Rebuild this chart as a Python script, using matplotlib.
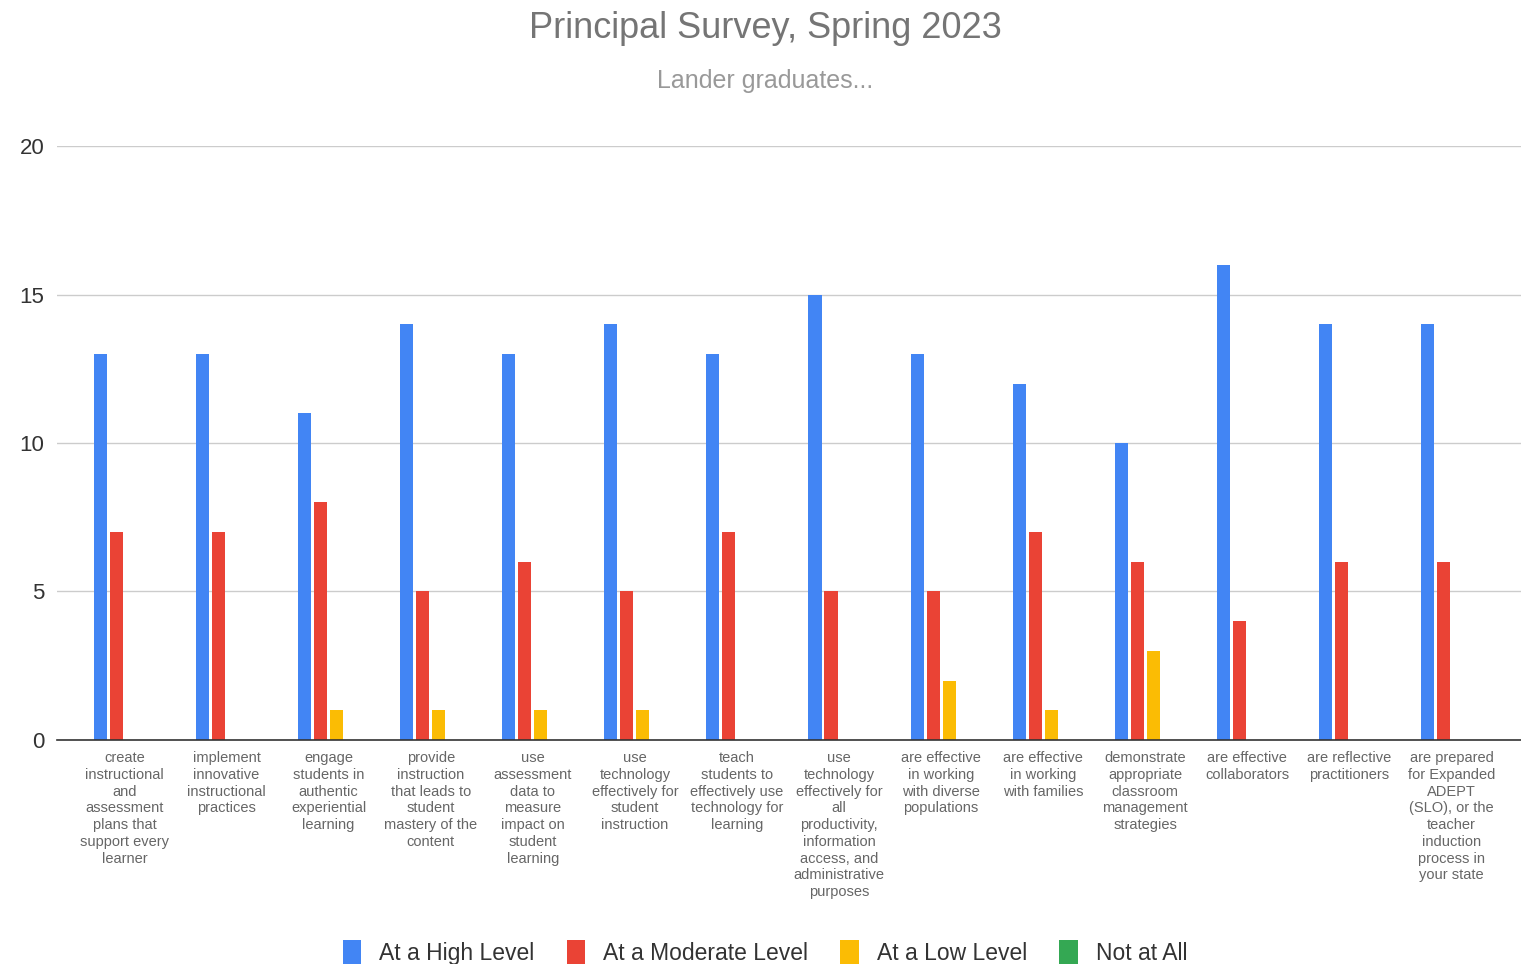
import numpy as np
import matplotlib.pyplot as plt
from matplotlib.patches import Patch

categories = [
    "create\ninstructional\nand\nassessment\nplans that\nsupport every\nlearner",
    "implement\ninnovative\ninstructional\npractices",
    "engage\nstudents in\nauthentic\nexperiential\nlearning",
    "provide\ninstruction\nthat leads to\nstudent\nmastery of the\ncontent",
    "use\nassessment\ndata to\nmeasure\nimpact on\nstudent\nlearning",
    "use\ntechnology\neffectively for\nstudent\ninstruction",
    "teach\nstudents to\neffectively use\ntechnology for\nlearning",
    "use\ntechnology\neffectively for\nall\nproductivity,\ninformation\naccess, and\nadministrative\npurposes",
    "are effective\nin working\nwith diverse\npopulations",
    "are effective\nin working\nwith families",
    "demonstrate\nappropriate\nclassroom\nmanagement\nstrategies",
    "are effective\ncollaborators",
    "are reflective\npractitioners",
    "are prepared\nfor Expanded\nADEPT\n(SLO), or the\nteacher\ninduction\nprocess in\nyour state",
]
high = [13, 13, 11, 14, 13, 14, 13, 15, 13, 12, 10, 16, 14, 14]
moderate = [7, 7, 8, 5, 6, 5, 7, 5, 5, 7, 6, 4, 6, 6]
low = [0, 0, 1, 1, 1, 1, 0, 0, 2, 1, 3, 0, 0, 0]
not_at_all = [0] * 14

series = ["At a High Level", "At a Moderate Level", "At a Low Level", "Not at All"]
colors = ["#4285F4", "#EA4335", "#FBBC04", "#34A853"]

plt.rcParams['font.family'] = ['Liberation Sans', 'DejaVu Sans']

fig = plt.figure(figsize=(15.21, 9.64), dpi=100)
ax = fig.add_axes([0.0375, 0.2324, 0.9625, 0.6161])

x = np.arange(len(categories))
step = 0.157
w = 0.128
for i, (vals, c) in enumerate(zip([high, moderate, low, not_at_all], colors)):
    ax.bar(x + (i - 1.5) * step, vals, width=w, color=c, zorder=3)

ax.set_ylim(0, 20)
ax.set_xlim(-0.66, 13.68)
ax.set_yticks([0, 5, 10, 15, 20])
ax.tick_params(axis='y', length=0, labelsize=16, labelcolor='#333333', pad=9)
ax.set_xticks(x)
ax.set_xticklabels(categories, fontsize=10.5, color='#666666', linespacing=1.25)
ax.tick_params(axis='x', length=0, pad=8)
ax.grid(axis='y', color='#cccccc', linewidth=1, zorder=0)
for s in ['top', 'right', 'left']:
    ax.spines[s].set_visible(False)
ax.spines['bottom'].set_color('#333333')
ax.spines['bottom'].set_linewidth(1.2)
ax.spines['bottom'].set_zorder(4)

fig.text(0.503, 0.970, "Principal Survey, Spring 2023", ha='center', va='center',
         fontsize=26, color='#757575')
fig.text(0.503, 0.916, "Lander graduates...", ha='center', va='center',
         fontsize=18, color='#999999')

handles = [Patch(facecolor=c, edgecolor='none') for c in colors]
fig.legend(handles, series, loc='center', bbox_to_anchor=(0.503, 0.012), ncol=4,
           frameon=False, fontsize=16.5, handlelength=0.8, handleheight=1.3,
           handletextpad=0.8, columnspacing=1.4, labelcolor='#333333')

fig.savefig("out.png", dpi=100)
